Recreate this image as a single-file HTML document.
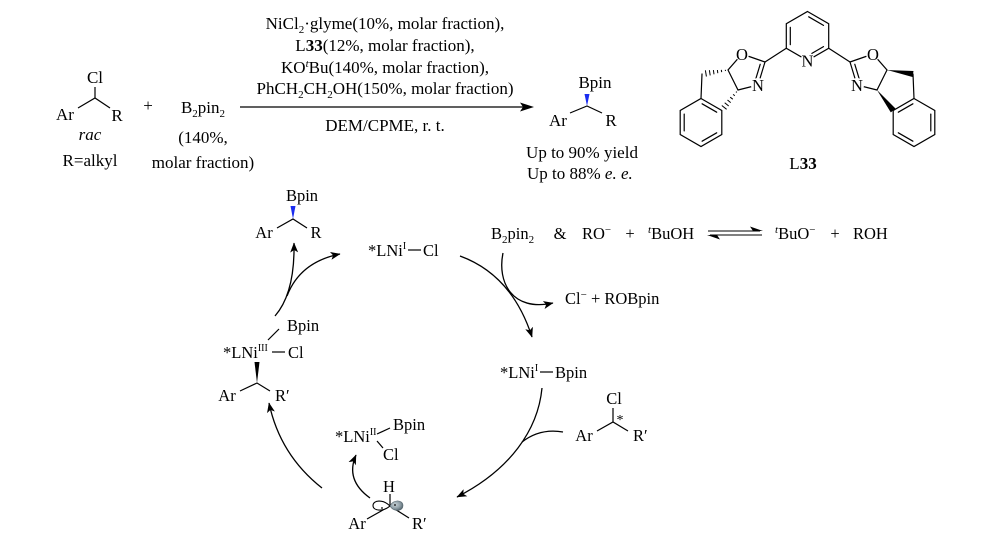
<!DOCTYPE html>
<html>
<head>
<meta charset="utf-8">
<style>
html,body{margin:0;padding:0;background:#fff;}
svg{display:block;}
text{font-family:"Liberation Serif",serif;fill:#000;}
</style>
</head>
<body>
<svg width="1000" height="541" viewBox="0 0 1000 541" xmlns="http://www.w3.org/2000/svg">
<defs>
<marker id="ah" viewBox="0 0 10 8" refX="9.5" refY="4" markerWidth="10" markerHeight="8" markerUnits="userSpaceOnUse" orient="auto">
<path d="M0,0 L10,4 L0,8 L2.5,4 Z" fill="#000"/>
</marker>
<radialGradient id="lobe" cx="40%" cy="40%" r="65%">
<stop offset="0" stop-color="#c9d3d8"/>
<stop offset="0.6" stop-color="#8e9ea6"/>
<stop offset="1" stop-color="#55656d"/>
</radialGradient>
</defs>

<!-- ============ TOP REACTION ============ -->
<g font-size="17">
<text x="95" y="83" text-anchor="middle">Cl</text>
<text x="65" y="120" text-anchor="middle">Ar</text>
<text x="117" y="121" text-anchor="middle">R</text>
<text x="90" y="140" text-anchor="middle" font-style="italic">rac</text>
<text x="90" y="166" text-anchor="middle">R=alkyl</text>
<text x="148" y="111" text-anchor="middle">+</text>
<text x="203" y="113" text-anchor="middle">B<tspan font-size="11" dy="4">2</tspan><tspan dy="-4">pin</tspan><tspan font-size="11" dy="4">2</tspan></text>
<text x="203" y="143" text-anchor="middle">(140%,</text>
<text x="203" y="168" text-anchor="middle">molar fraction)</text>

<text x="385" y="29" text-anchor="middle">NiCl<tspan font-size="11" dy="4">2</tspan><tspan dy="-4">·glyme(10%, molar fraction),</tspan></text>
<text x="385" y="51" text-anchor="middle">L<tspan font-weight="bold">33</tspan>(12%, molar fraction),</text>
<text x="385" y="73" text-anchor="middle">KO<tspan font-size="11" dy="-6" font-style="italic">t</tspan><tspan dy="6">Bu(140%, molar fraction),</tspan></text>
<text x="385" y="94" text-anchor="middle">PhCH<tspan font-size="11" dy="4">2</tspan><tspan dy="-4">CH</tspan><tspan font-size="11" dy="4">2</tspan><tspan dy="-4">OH(150%, molar fraction)</tspan></text>
<text x="385" y="131" text-anchor="middle">DEM/CPME, r. t.</text>

<text x="595" y="88" text-anchor="middle">Bpin</text>
<text x="558" y="126" text-anchor="middle">Ar</text>
<text x="611" y="126" text-anchor="middle">R</text>
<text x="582" y="158" text-anchor="middle">Up to 90% yield</text>
<text x="527" y="179">Up to 88%  <tspan font-style="italic">e. e.</tspan></text>
</g>
<g stroke="#000" stroke-width="1.2" fill="none">
<polyline points="78,108 95,98 110,108"/>
<line x1="95" y1="87" x2="95" y2="98"/>
<line x1="240" y1="107" x2="523" y2="107"/>
<polyline points="570,113 587,106 602,113"/>
</g>
<polygon points="534,107 520,102.5 523,107 520,111.5" fill="#000"/>
<polygon points="584.5,94 589.5,94 587,106" fill="#1a2cf0"/>

<!-- ============ L33 ============ -->
<g stroke="#000" stroke-width="1.2" fill="none" stroke-linecap="round">
<!-- pyridine -->
<polygon points="807.5,11.5 828.7,23.75 828.7,48.25 807.5,60.5 786.3,48.25 786.3,23.75"/>
<line x1="790.3" y1="27.4" x2="790.3" y2="44.6"/>
<line x1="808.7" y1="16.8" x2="823.5" y2="25.4"/>
<line x1="823.5" y1="46.6" x2="811.9" y2="53.4"/>
<!-- links -->
<line x1="786.3" y1="48.25" x2="765" y2="62"/>
<line x1="828.7" y1="48.25" x2="850" y2="62"/>
<!-- left oxazoline -->
<polyline points="765,62 742,54 728,70 738,90 758,85 765,62"/>
<line x1="760.2" y1="64.3" x2="755.3" y2="80.4"/>
<!-- right oxazoline -->
<polyline points="850,62 873,54 887,70 877,90 857,85 850,62"/>
<line x1="854.8" y1="64.3" x2="859.7" y2="80.4"/>
<!-- left indane -->
<line x1="702" y1="74" x2="701" y2="98.5"/>
<polygon points="701,98.5 721.8,110.5 721.8,134.5 701,146.5 680.2,134.5 680.2,110.5"/>
<line x1="684.2" y1="114.1" x2="684.2" y2="130.9"/>
<line x1="702.1" y1="103.8" x2="716.7" y2="112.2"/>
<line x1="716.7" y1="132.8" x2="702.1" y2="141.2"/>
<!-- right indane -->
<line x1="913" y1="74" x2="914" y2="98.5"/>
<polygon points="914,98.5 934.8,110.5 934.8,134.5 914,146.5 893.2,134.5 893.2,110.5"/>
<line x1="930.8" y1="114.1" x2="930.8" y2="130.9"/>
<line x1="912.9" y1="103.8" x2="898.3" y2="112.2"/>
<line x1="898.3" y1="132.8" x2="912.9" y2="141.2"/>
</g>
<!-- hashed wedges left -->
<g stroke="#000" stroke-width="1">
<line x1="725.3" y1="69.8" x2="725.5" y2="71.0"/>
<line x1="721.3" y1="69.9" x2="721.7" y2="72.1"/>
<line x1="717.4" y1="70.0" x2="717.8" y2="73.2"/>
<line x1="713.4" y1="70.1" x2="714.0" y2="74.3"/>
<line x1="709.4" y1="70.2" x2="710.2" y2="75.4"/>
<line x1="705.4" y1="70.3" x2="706.4" y2="76.5"/>
<line x1="735.9" y1="91.7" x2="736.9" y2="92.4"/>
<line x1="733.1" y1="94.4" x2="734.8" y2="95.8"/>
<line x1="730.2" y1="97.2" x2="732.8" y2="99.2"/>
<line x1="727.5" y1="100.0" x2="730.7" y2="102.6"/>
<line x1="724.7" y1="102.7" x2="728.7" y2="106.0"/>
<line x1="721.8" y1="105.5" x2="726.6" y2="109.3"/>
</g>
<!-- solid wedges right -->
<polygon points="887,70 913.5,71 912.5,77" fill="#000"/>
<polygon points="877,90 895.6,108.6 890.8,112.4" fill="#000"/>
<!-- label backgrounds -->
<g fill="#fff">
<circle cx="742" cy="54" r="7"/>
<circle cx="758" cy="85" r="7"/>
<circle cx="873" cy="54" r="7"/>
<circle cx="857" cy="85" r="7"/>
<circle cx="807.5" cy="60.5" r="7"/>
</g>
<g font-size="16.5">
<text x="742" y="60" text-anchor="middle">O</text>
<text x="758" y="91" text-anchor="middle">N</text>
<text x="873" y="60" text-anchor="middle">O</text>
<text x="857" y="91" text-anchor="middle">N</text>
<text x="807.5" y="66.5" text-anchor="middle">N</text>
</g>
<text x="803" y="169" text-anchor="middle" font-size="17">L<tspan font-weight="bold">33</tspan></text>

<!-- ============ CATALYTIC CYCLE ============ -->
<g font-size="16.5">
<!-- product top-left -->
<text x="302" y="201" text-anchor="middle">Bpin</text>
<text x="264" y="238" text-anchor="middle">Ar</text>
<text x="316" y="238" text-anchor="middle">R</text>

<!-- LNi(I)-Cl -->
<text x="368" y="256">*LNi<tspan font-size="10" dy="-7">I</tspan></text>
<text x="423" y="256">Cl</text>

<!-- top right equilibrium -->
<text x="491" y="239">B<tspan font-size="11" dy="4">2</tspan><tspan dy="-4">pin</tspan><tspan font-size="11" dy="4">2</tspan></text>
<text x="560" y="239" text-anchor="middle">&amp;</text>
<text x="582" y="239">RO<tspan font-size="11" dy="-6">−</tspan></text>
<text x="630" y="239" text-anchor="middle">+</text>
<text x="648" y="239"><tspan font-size="11" dy="-6" font-style="italic">t</tspan><tspan dy="6">BuOH</tspan></text>
<text x="775" y="239"><tspan font-size="11" dy="-6" font-style="italic">t</tspan><tspan dy="6">BuO</tspan><tspan font-size="11" dy="-6">−</tspan></text>
<text x="835" y="239" text-anchor="middle">+</text>
<text x="853" y="239">ROH</text>

<text x="565" y="304">Cl<tspan font-size="11" dy="-6">−</tspan><tspan dy="6">  +  ROBpin</tspan></text>

<!-- LNi(III) -->
<text x="287" y="331">Bpin</text>
<text x="223" y="358">*LNi<tspan font-size="10" dy="-7">III</tspan></text>
<text x="288" y="358">Cl</text>
<text x="227" y="401" text-anchor="middle">Ar</text>
<text x="275" y="401">R′</text>

<!-- LNi(I)-Bpin -->
<text x="500" y="378">*LNi<tspan font-size="10" dy="-7">I</tspan></text>
<text x="555" y="378">Bpin</text>

<!-- substrate -->
<text x="614" y="404" text-anchor="middle">Cl</text>
<text x="620" y="424" text-anchor="middle" font-size="14">*</text>
<text x="584" y="441" text-anchor="middle">Ar</text>
<text x="633" y="441">R′</text>

<!-- LNi(II) -->
<text x="335" y="442">*LNi<tspan font-size="10" dy="-7">II</tspan></text>
<text x="393" y="430">Bpin</text>
<text x="383" y="460">Cl</text>

<!-- radical -->
<text x="389" y="492" text-anchor="middle">H</text>
<text x="357" y="529" text-anchor="middle">Ar</text>
<text x="412" y="529">R′</text>
</g>

<g stroke="#000" stroke-width="1.2" fill="none">
<!-- product bonds -->
<polyline points="277,228 293,219 307,228"/>
<!-- LNi(I)-Cl dash -->
<line x1="408" y1="250" x2="421" y2="250"/>
<!-- LNi(III) -->
<line x1="268" y1="340" x2="279" y2="329"/>
<line x1="272" y1="352" x2="285" y2="352"/>
<polyline points="240,391 257,383 270,391"/>
<!-- LNi(I)-Bpin dash -->
<line x1="540" y1="372" x2="553" y2="372"/>
<!-- substrate -->
<polyline points="597,431 613,422 628,431"/>
<line x1="613" y1="408" x2="613" y2="422"/>
<!-- LNi(II) -->
<line x1="377" y1="434" x2="390" y2="428"/>
<line x1="377" y1="441" x2="383" y2="448"/>
<!-- radical -->
<line x1="367" y1="519" x2="390" y2="506"/>
<line x1="390" y1="506" x2="409" y2="518"/>
<line x1="390" y1="494" x2="390" y2="506"/>
</g>
<polygon points="290.5,206 295.5,206 293,219" fill="#1a2cf0"/>
<polygon points="254.5,362 259.5,362 257,383" fill="#000"/>

<!-- orbital -->
<path d="M390,506 C383,499 373,500 373,505.5 C373,511 383,512 390,506 Z" fill="#fff" stroke="#000" stroke-width="1.1"/>
<path d="M390,506 C393,499 403,499.5 403,505.5 C403,512 393,512 390,506 Z" fill="url(#lobe)" stroke="#55656d" stroke-width="0.6"/>
<circle cx="382" cy="508" r="0.9" fill="#000"/>
<circle cx="395" cy="505" r="0.9" fill="#000"/>

<!-- equilibrium arrows -->
<g stroke="#000" stroke-width="1.1">
<line x1="708" y1="231" x2="760" y2="231"/>
<line x1="710" y1="235" x2="762" y2="235"/>
</g>
<polygon points="763,231 750,226.5 753,231" fill="#000"/>
<polygon points="707,235 720,239.5 717,235" fill="#000"/>

<!-- cycle arrows -->
<g stroke="#000" stroke-width="1.3" fill="none">
<path d="M275,316 Q295,293 294,243" marker-end="url(#ah)"/>
<path d="M287,296 Q300,262 340,254" marker-end="url(#ah)"/>
<path d="M460,256 Q512,275 532,337" marker-end="url(#ah)"/>
<path d="M503,253 C497,282 512,312 553,303" marker-end="url(#ah)"/>
<path d="M542,388 C538,430 510,470 457,497" marker-end="url(#ah)"/>
<path d="M563,432 Q540,428 522,442"/>
<path d="M370,498 Q345,480 356,455" marker-end="url(#ah)"/>
<path d="M322,488 Q280,455 269,403" marker-end="url(#ah)"/>
</g>
</svg>
</body>
</html>
